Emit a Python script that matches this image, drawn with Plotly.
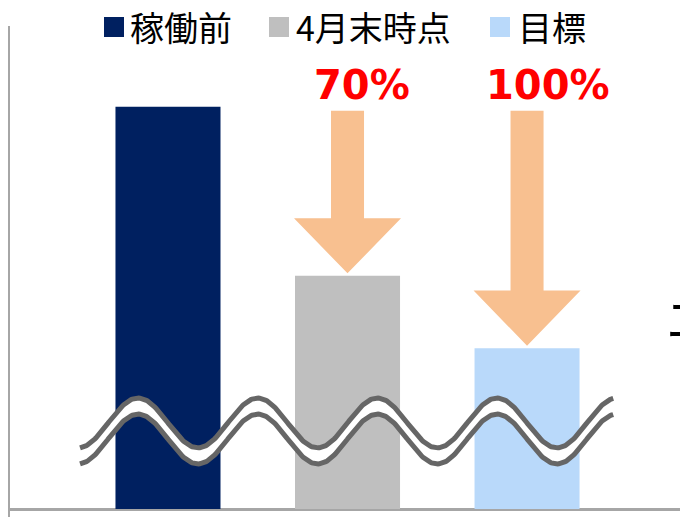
import numpy as np
import plotly.graph_objects as go

# ---- data ----
categories = ["稼働前", "4月末時点", "目標"]
values = [100, 58, 40]
bar_colors = ["#002060", "#BFBFBF", "#B9D9FA"]
arrow_labels = ["", "70%", "100%"]
side_text = "エ"

W, H = 680, 517
ML, MR, MT, MB = 10, 0, 26, 0
PW, PH = W - ML - MR, H - MT - MB

def px_x(p):
    return (p - ML) / PW

def px_y(p):
    return (H - MB - p) / PH

x_idx = list(range(len(categories)))

fig = go.Figure()
fig.add_trace(go.Bar(
    x=x_idx, y=values, width=0.585,
    marker=dict(color=bar_colors, line=dict(width=0)),
    showlegend=False, hoverinfo="skip",
))

# ---- wavy break mark (decoration) ----
xs = np.linspace(-0.49, 2.48, 500)
level, gap, amp = 19.4, 2.0, 6.2
wave = amp * np.cos(3 * np.pi * (xs + 1 / 6))
upper = level + gap + wave
lower = level - gap + wave
fig.add_trace(go.Scatter(x=xs, y=lower, mode="lines", line=dict(width=0, color="white"),
                         showlegend=False, hoverinfo="skip"))
fig.add_trace(go.Scatter(x=xs, y=upper, mode="lines", line=dict(width=0, color="white"),
                         fill="tonexty", fillcolor="white", showlegend=False, hoverinfo="skip"))
for yy in (lower, upper):
    fig.add_trace(go.Scatter(x=xs, y=yy, mode="lines", line=dict(width=5, color="#666666"),
                             showlegend=False, hoverinfo="skip"))

# ---- arrows and labels ----
shapes = []
annotations = []
sw, hw, hh = 0.092, 0.298, 13.7
for i in range(1, len(categories)):
    cx = x_idx[i]
    tip = values[i] + 0.6
    htop = tip + hh
    top = values[0] - 1.0
    path = (f"M{cx-sw},{top} L{cx+sw},{top} L{cx+sw},{htop} L{cx+hw},{htop} "
            f"L{cx},{tip} L{cx-hw},{htop} L{cx-sw},{htop} Z")
    shapes.append(dict(type="path", path=path, xref="x", yref="y",
                       fillcolor="#F8C090", line=dict(width=0), layer="above"))
    annotations.append(dict(
        x=cx + (0.081 if i == 1 else 0.117), y=105.5, xref="x", yref="y",
        text=f"<b>{arrow_labels[i]}</b>", showarrow=False,
        xanchor="center", yanchor="middle",
        font=dict(family="DejaVu Sans", size=40, color="#FF0000"),
    ))

# ---- manual legend ----
leg_sq = [(104, 124), (269, 289), (490, 510)]
leg_tx = [128, 294, 516]
for (x0, x1), tx, name, col in zip(leg_sq, leg_tx, categories, bar_colors):
    shapes.append(dict(type="rect", xref="paper", yref="paper",
                       x0=px_x(x0), x1=px_x(x1), y0=px_y(37), y1=px_y(17),
                       fillcolor=col, line=dict(width=0)))
    annotations.append(dict(
        x=px_x(tx), y=px_y(26), xref="paper", yref="paper", text=name,
        showarrow=False, xanchor="left", yanchor="middle",
        font=dict(family="Noto Sans CJK JP", size=34, color="#000000"),
    ))

# text partly outside the right edge, as in the reference
annotations.append(dict(
    x=px_x(664), y=px_y(316), xref="paper", yref="paper", text=side_text,
    showarrow=False, xanchor="left", yanchor="middle",
    font=dict(family="Noto Sans CJK JP", size=50, color="#000000"),
))

fig.update_layout(
    width=W, height=H,
    margin=dict(l=ML, r=MR, t=MT, b=MB, pad=0),
    paper_bgcolor="white", plot_bgcolor="white",
    shapes=shapes, annotations=annotations,
    showlegend=False,
    xaxis=dict(range=[-0.880, 2.852], showgrid=False, zeroline=False,
               showticklabels=False, ticks="", showline=False),
    yaxis=dict(range=[-1.99, 120.1], showgrid=False, zeroline=True,
               zerolinecolor="#A6A6A6", zerolinewidth=2.5,
               showticklabels=False, ticks="", showline=True,
               linecolor="#A6A6A6", linewidth=2),
)

fig.write_html("out.html")
